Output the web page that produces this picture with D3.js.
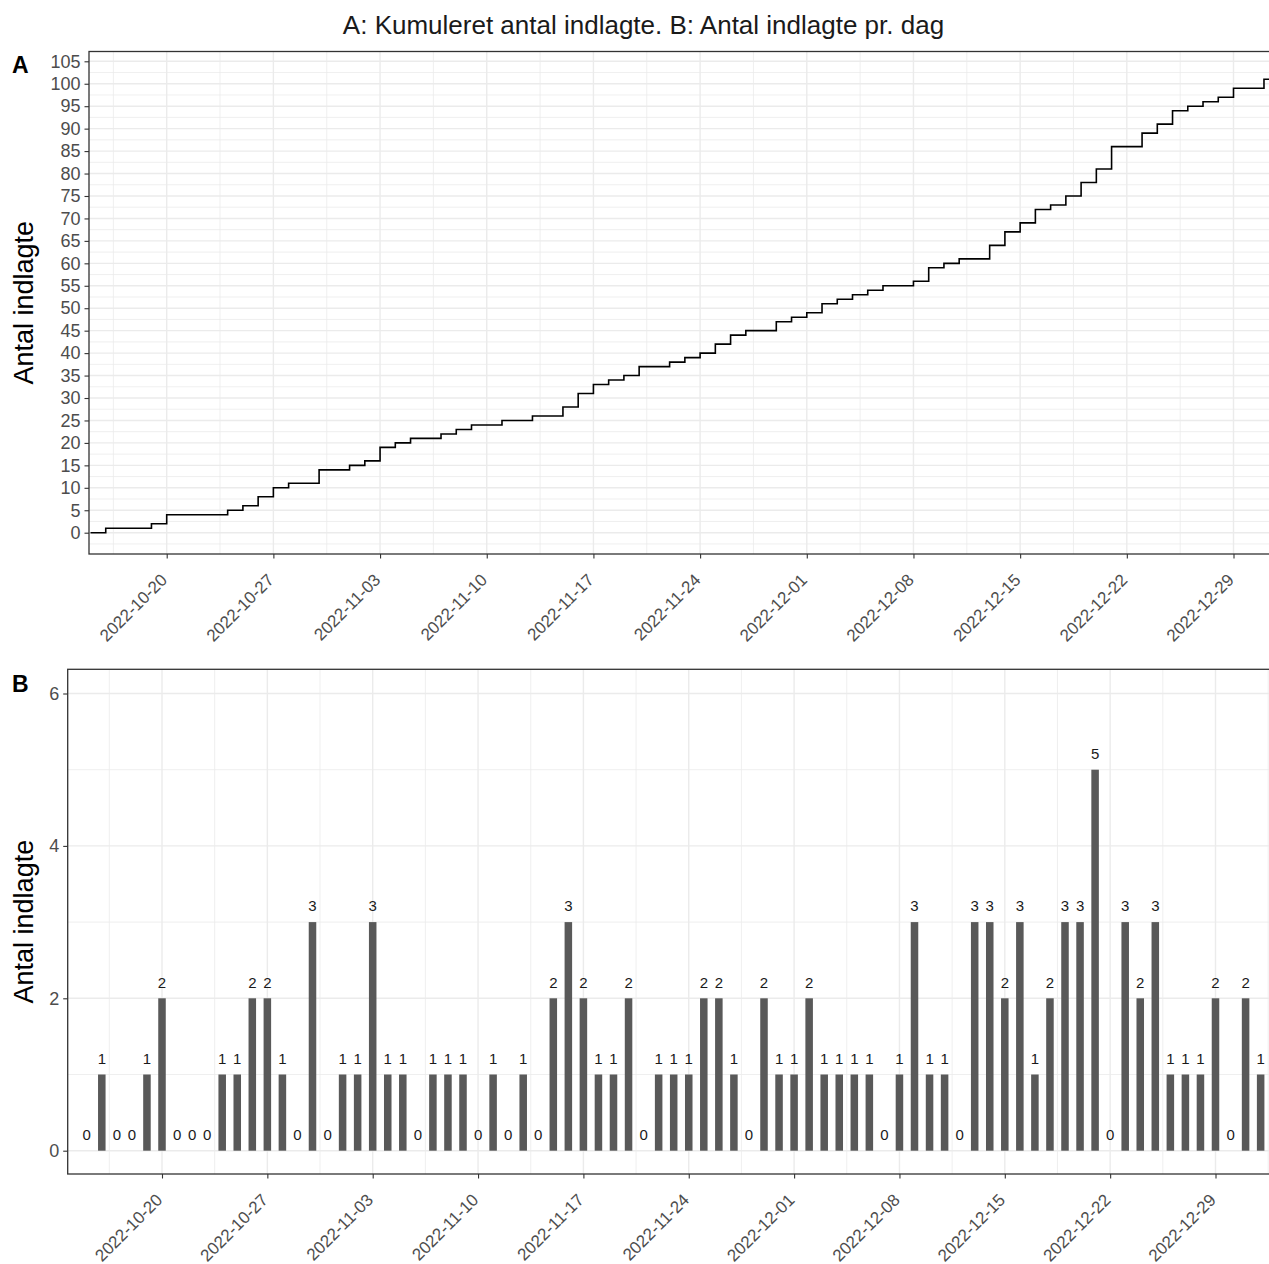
<!DOCTYPE html>
<html>
<head>
<meta charset="utf-8">
<script src="https://cdn.jsdelivr.net/npm/d3@7"></script>
<style>
    body { margin: 0; background: #fff; }
    text { font-family: Arial, "Liberation Sans", sans-serif; }
</style>
</head>
<body>
<svg id="chart" width="1269" height="1264"></svg>
<script>
// daily admissions, one value per day starting at firstDay
let firstDay = "2022-10-15";
let dailyCounts = [
    0, 1, 0, 0, 1, 2, 0, 0, 0, 1, 1, 2, 2, 1, 0, 3, 0,          // Oct 15-31
    1, 1, 3, 1, 1, 0, 1, 1, 1, 0, 1, 0, 1, 0, 2, 3, 2, 1, 1, 2,  // Nov 1-20
    0, 1, 1, 1, 2, 2, 1, 0, 2, 1,                                // Nov 21-30
    1, 2, 1, 1, 1, 1, 0, 1, 3, 1, 1, 0, 3, 3, 2, 3, 1, 2, 3, 3,  // Dec 1-20
    5, 0, 3, 2, 3, 1, 1, 1, 2, 0, 2,                             // Dec 21-31
    1                                                            // Jan 1
];
let tickDates = ["2022-10-20", "2022-10-27", "2022-11-03", "2022-11-10", "2022-11-17",
    "2022-11-24", "2022-12-01", "2022-12-08", "2022-12-15", "2022-12-22", "2022-12-29"];
let yTicksA = [0, 5, 10, 15, 20, 25, 30, 35, 40, 45, 50, 55, 60, 65, 70, 75, 80, 85, 90, 95, 100, 105];
let yTicksB = [0, 2, 4, 6];
let chartTitle = "A: Kumuleret antal indlagte. B: Antal indlagte pr. dag";
let yTitle = "Antal indlagte";
let panelTags = ["A", "B"];

let parseDay = d3.utcParse("%Y-%m-%d");
let fmtDay = d3.utcFormat("%Y-%m-%d");

let days = dailyCounts.map((v, i) => d3.utcDay.offset(parseDay(firstDay), i));
let cumCounts = Array.from(d3.cumsum(dailyCounts));
let data = days.map((d, i) => ({date: d, count: dailyCounts[i], cum: cumCounts[i]}));
let ticks = tickDates.map(parseDay);

let svg = d3.select("#chart");
let gridColor = "#ebebeb";
let axisColor = "#333333";
let tickTextColor = "#4d4d4d";

// panel boxes (right edge runs past the picture, as in the original)
let panelA = {left: 89, top: 51.5, right: 1275, bottom: 554};
let panelB = {left: 67.7, top: 669.3, right: 1275, bottom: 1174};

let xA = d3.scaleUtc().domain([ticks[0], ticks[ticks.length - 1]]).range([166.7, 1233.5]);
let yA = d3.scaleLinear().domain([0, 105]).range([532.7, 61.3]);
let xB = d3.scaleUtc().domain([ticks[0], ticks[ticks.length - 1]]).range([162, 1215.5]);
let yB = d3.scaleLinear().domain([0, 6]).range([1150.7, 693.5]);

function clipFor(id, p) {
    svg.append("clipPath").attr("id", id)
        .append("rect")
        .attr("x", p.left).attr("y", p.top)
        .attr("width", p.right - p.left).attr("height", p.bottom - p.top);
}

// gridlines: major at ticks, minor halfway between
function drawGrid(p, x, y, yMajor, yStep, clipId) {
    let g = svg.append("g").attr("clip-path", "url(#" + clipId + ")");
    let xMinor = ticks.map(t => d3.utcHour.offset(t, -84));
    xMinor.push(d3.utcHour.offset(ticks[ticks.length - 1], 84));
    let yMinor = yMajor.map(v => v - yStep / 2);
    yMinor.push(yMajor[yMajor.length - 1] + yStep / 2);

    g.selectAll(".ymin").data(yMinor).enter().append("line")
        .attr("x1", p.left).attr("x2", p.right)
        .attr("y1", d => y(d)).attr("y2", d => y(d))
        .attr("stroke", gridColor).attr("stroke-width", 0.8);
    g.selectAll(".xmin").data(xMinor).enter().append("line")
        .attr("y1", p.top).attr("y2", p.bottom)
        .attr("x1", d => x(d)).attr("x2", d => x(d))
        .attr("stroke", gridColor).attr("stroke-width", 0.8);
    g.selectAll(".ymaj").data(yMajor).enter().append("line")
        .attr("x1", p.left).attr("x2", p.right)
        .attr("y1", d => y(d)).attr("y2", d => y(d))
        .attr("stroke", gridColor).attr("stroke-width", 1.4);
    g.selectAll(".xmaj").data(ticks).enter().append("line")
        .attr("y1", p.top).attr("y2", p.bottom)
        .attr("x1", d => x(d)).attr("x2", d => x(d))
        .attr("stroke", gridColor).attr("stroke-width", 1.4);
}

function drawAxes(p, x, y, yTicks) {
    let xAxis = svg.append("g")
        .attr("transform", "translate(0," + p.bottom + ")")
        .call(d3.axisBottom(x).tickValues(ticks).tickFormat(fmtDay).tickSize(4.5));
    xAxis.select(".domain").remove();
    xAxis.selectAll("line").attr("stroke", axisColor).attr("stroke-width", 1.1);
    xAxis.selectAll("text")
        .attr("x", 0).attr("y", 0).attr("dy", 0)
        .attr("text-anchor", "end")
        .attr("transform", "translate(1,27) rotate(-45)")
        .style("font-size", "17px")
        .style("font-family", "Arial, 'Liberation Sans', sans-serif")
        .attr("fill", tickTextColor);

    let yAxis = svg.append("g")
        .attr("transform", "translate(" + p.left + ",0)")
        .call(d3.axisLeft(y).tickValues(yTicks).tickFormat(d3.format("d")).tickSize(4.5).tickPadding(4));
    yAxis.select(".domain").remove();
    yAxis.selectAll("line").attr("stroke", axisColor).attr("stroke-width", 1.1);
    yAxis.selectAll("text")
        .style("font-size", "18px")
        .style("font-family", "Arial, 'Liberation Sans', sans-serif")
        .attr("fill", tickTextColor);
}

function drawFrame(p) {
    svg.append("rect")
        .attr("x", p.left).attr("y", p.top)
        .attr("width", p.right - p.left).attr("height", p.bottom - p.top)
        .attr("fill", "none").attr("stroke", axisColor).attr("stroke-width", 1.3);
}

function drawYTitle(p) {
    svg.append("text")
        .attr("transform", "translate(33," + ((p.top + p.bottom) / 2) + ") rotate(-90)")
        .attr("text-anchor", "middle")
        .style("font-size", "27px")
        .attr("fill", "#000")
        .text(yTitle);
}

clipFor("clipA", panelA);
clipFor("clipB", panelB);

// ******* Panel A: cumulative step line *******
drawGrid(panelA, xA, yA, yTicksA, 5, "clipA");

let stepLine = d3.line()
    .curve(d3.curveStepAfter)
    .x(d => xA(d.date))
    .y(d => yA(d.cum));

svg.append("g").attr("clip-path", "url(#clipA)")
    .append("path")
    .datum(data)
    .attr("d", stepLine)
    .attr("fill", "none")
    .attr("stroke", "#000")
    .attr("stroke-width", 1.6);

drawAxes(panelA, xA, yA, yTicksA);
drawFrame(panelA);
drawYTitle(panelA);

// ******* Panel B: daily bars with value labels *******
drawGrid(panelB, xB, yB, yTicksB, 2, "clipB");

let barW = (xB(days[1]) - xB(days[0])) * 0.5;
let gB = svg.append("g").attr("clip-path", "url(#clipB)");

gB.selectAll("rect").data(data).enter().append("rect")
    .attr("x", d => xB(d.date) - barW / 2)
    .attr("width", barW)
    .attr("y", d => yB(d.count))
    .attr("height", d => yB(0) - yB(d.count))
    .attr("fill", "#595959");

gB.selectAll("text").data(data).enter().append("text")
    .attr("x", d => xB(d.date))
    .attr("y", d => yB(d.count) - 10.7)
    .attr("text-anchor", "middle")
    .style("font-size", "15px")
    .attr("fill", "#1a1a1a")
    .text(d => d.count);

drawAxes(panelB, xB, yB, yTicksB);
drawFrame(panelB);
drawYTitle(panelB);

// title and panel tags
svg.append("text")
    .attr("x", 643.5).attr("y", 34)
    .attr("text-anchor", "middle")
    .style("font-size", "26px")
    .attr("fill", "#1a1a1a")
    .text(chartTitle);

svg.selectAll(".tag").data(panelTags).enter().append("text")
    .attr("x", 12)
    .attr("y", (d, i) => i === 0 ? 73.3 : 691.7)
    .style("font-size", "23px")
    .style("font-weight", "bold")
    .attr("fill", "#000")
    .text(d => d);
</script>
</body>
</html>
